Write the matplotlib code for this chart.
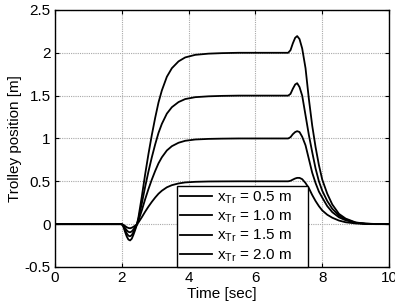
import matplotlib
matplotlib.use('Agg')
import matplotlib.pyplot as plt
from matplotlib.ticker import FormatStrFormatter

plt.rcParams['font.family'] = ['Liberation Sans', 'DejaVu Sans']
plt.rcParams['mathtext.default'] = 'regular'

# time axis [sec]
t = [0.0, 2.0, 2.05, 2.1, 2.15, 2.2, 2.25, 2.3, 2.35, 2.4, 2.45, 2.5,
     2.6, 2.7, 2.8, 2.9, 3.0, 3.1, 3.2, 3.35, 3.5, 3.7, 3.9, 4.2, 4.6,
     5.0, 5.5, 6.0, 6.5, 6.98, 7.05, 7.12, 7.19, 7.25, 7.32, 7.4, 7.5,
     7.6, 7.7, 7.8, 7.9, 8.0, 8.15, 8.3, 8.5, 8.7, 9.0, 9.3, 9.6, 10.0]

# trolley position [m], one list per target distance
x_05 = [0, 0, -0.008, -0.022, -0.036, -0.045, -0.048, -0.042, -0.031, -0.018, -0.002, 0.02,
        0.08, 0.145, 0.205, 0.26, 0.31, 0.355, 0.39, 0.43, 0.455, 0.475, 0.487, 0.494, 0.498,
        0.499, 0.5, 0.5, 0.5, 0.5, 0.506, 0.52, 0.533, 0.54, 0.54, 0.525, 0.48,
        0.42, 0.34, 0.27, 0.21, 0.16, 0.11, 0.075, 0.042, 0.022, 0.008, 0.002, 0.0, 0.0]
x_10 = [0, 0, -0.015, -0.045, -0.072, -0.09, -0.095, -0.085, -0.062, -0.035, -0.005, 0.04,
        0.16, 0.29, 0.41, 0.52, 0.62, 0.71, 0.78, 0.86, 0.91, 0.95, 0.973, 0.988, 0.995,
        0.998, 1.0, 1.0, 1.0, 1.0, 1.015, 1.05, 1.075, 1.085, 1.075, 1.02, 0.92,
        0.76, 0.6, 0.48, 0.38, 0.31, 0.21, 0.14, 0.08, 0.045, 0.017, 0.005, 0.001, 0.0]
x_15 = [0, 0, -0.022, -0.068, -0.108, -0.135, -0.142, -0.128, -0.093, -0.052, -0.008, 0.06,
        0.24, 0.435, 0.615, 0.78, 0.93, 1.065, 1.17, 1.29, 1.365, 1.425, 1.46, 1.482, 1.492,
        1.497, 1.5, 1.5, 1.5, 1.5, 1.52, 1.58, 1.63, 1.645, 1.6, 1.5, 1.27,
        1.04, 0.84, 0.65, 0.5, 0.39, 0.27, 0.18, 0.1, 0.057, 0.015, 0.005, 0.001, 0.0]
x_20 = [0, 0, -0.03, -0.09, -0.144, -0.18, -0.19, -0.17, -0.124, -0.07, -0.01, 0.08,
        0.32, 0.58, 0.82, 1.04, 1.24, 1.42, 1.56, 1.72, 1.82, 1.9, 1.946, 1.976, 1.99,
        1.996, 2.0, 2.0, 2.0, 2.0, 2.03, 2.11, 2.175, 2.195, 2.16, 2.05, 1.82,
        1.46, 1.15, 0.9, 0.69, 0.52, 0.355, 0.23, 0.12, 0.065, 0.02, 0.006, 0.002, 0.0]

labels = [r'x$_{Tr}$ = 0.5 m', r'x$_{Tr}$ = 1.0 m', r'x$_{Tr}$ = 1.5 m', r'x$_{Tr}$ = 2.0 m']

fig = plt.figure(figsize=(3.95, 3.06), dpi=100)
ax = fig.add_axes([0.139, 0.1275, 0.846, 0.84])

for y, lab in zip([x_05, x_10, x_15, x_20], labels):
    ax.plot(t, y, color='black', linewidth=1.3, label=lab)

ax.set_xlim(0, 10)
ax.set_ylim(-0.5, 2.5)
ax.set_xticks([0, 2, 4, 6, 8, 10])
ax.set_yticks([-0.5, 0, 0.5, 1, 1.5, 2, 2.5])
ax.yaxis.set_major_formatter(FormatStrFormatter('%g'))
ax.tick_params(direction='in', top=True, right=True, length=3, labelsize=11, pad=3)
ax.grid(True, linestyle=(0, (1, 1)), color='#a8a8a8', linewidth=0.8)
for s in ax.spines.values():
    s.set_linewidth(1.0)

ax.set_xlabel('Time [sec]', fontsize=11, labelpad=1)
ax.set_ylabel('Trolley position [m]', fontsize=11, labelpad=2)

leg = ax.legend(loc='lower left', bbox_to_anchor=(0.364, 0.0, 0.393, 0.31), mode='expand',
                borderaxespad=0, fancybox=False, edgecolor='black', framealpha=1,
                fontsize=11, handlelength=2.1, handletextpad=0.35, labelspacing=0.2,
                borderpad=0.2)
leg.get_frame().set_linewidth(1.0)

fig.savefig('out.png', dpi=100)
